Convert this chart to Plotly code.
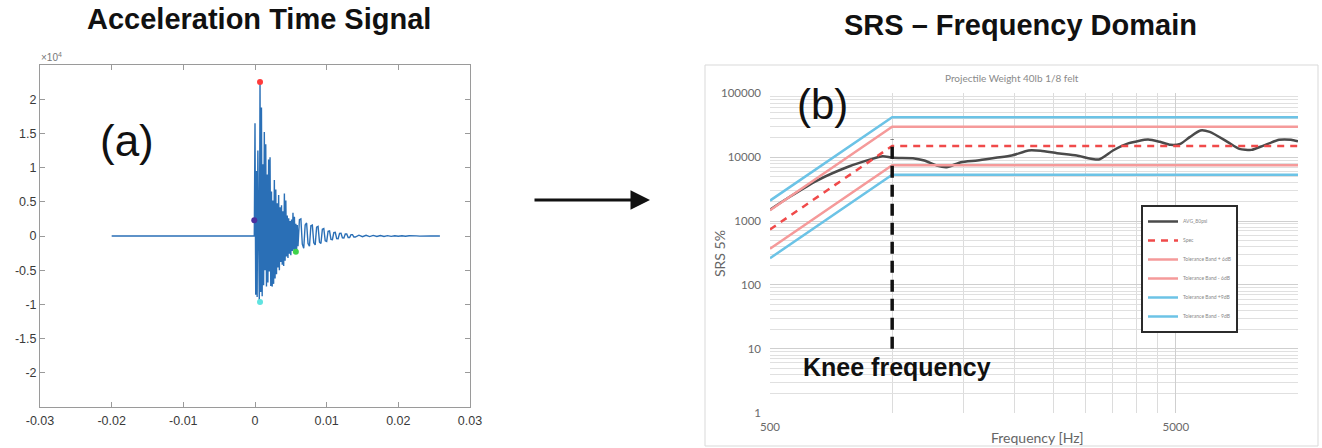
import plotly.graph_objects as go

W, H = 1322, 448

# ---------------- (a) acceleration time signal ----------------
sig_t = [-0.0200, -0.0001,
         0.0000, 0.0001, 0.0002, 0.0003, 0.0004, 0.0005, 0.0006, 0.0007, 0.0008, 0.0009,
         0.0010, 0.0011, 0.0012, 0.0013, 0.0014, 0.0015, 0.0016, 0.0017, 0.0018, 0.0019,
         0.0020, 0.0021, 0.0022, 0.0023, 0.0024, 0.0025, 0.0026, 0.0027, 0.0028, 0.0029,
         0.0030, 0.0031, 0.0032, 0.0033, 0.0034, 0.0035, 0.0036, 0.0037, 0.0038, 0.0039,
         0.0040, 0.0041, 0.0042, 0.0043, 0.0044, 0.0045, 0.0046, 0.0047, 0.0048, 0.0049,
         0.0050, 0.0051, 0.0052, 0.0053, 0.0054, 0.0055, 0.0056, 0.0057, 0.0058, 0.0059,
         0.0060,
         0.0062, 0.0064, 0.0066, 0.0068, 0.0070, 0.0072, 0.0074, 0.0076, 0.0078, 0.0080,
         0.0082, 0.0084, 0.0086, 0.0088, 0.0090, 0.0092, 0.0094, 0.0096, 0.0098, 0.0100,
         0.0102, 0.0104, 0.0106, 0.0108, 0.0110, 0.0112, 0.0114, 0.0116, 0.0118, 0.0120,
         0.0122, 0.0124, 0.0126, 0.0128, 0.0130, 0.0132, 0.0134, 0.0136, 0.0138, 0.0140,
         0.0145, 0.0150, 0.0155, 0.0160, 0.0165, 0.0170, 0.0175, 0.0180, 0.0185, 0.0190,
         0.0195, 0.0200, 0.0205, 0.0210, 0.0215, 0.0220, 0.0225, 0.0230, 0.0235, 0.0240,
         0.0245, 0.0250, 0.0258]
sig_v = [0, 0,
         16500, -8600, 9500, -8900, 12500, -7800, -9700, 22500, -8200, 18800,
         -8800, 10500, -7200, 15200, -5000, 13400, -7400, 9000, -6800, 11200,
         -5200, 11500, -7300, 6500, -7400, 5200, -7000, 8200, -6200, 6800,
         -5600, 4800, -4600, 6000, -5000, 4200, -3800, 4500, -4200, 3600,
         -4400, 6200, -3600, 5200, -3000, 3000, -3200, 2600, -2600, 2200,
         -2800, 2400, -2200, 3400, -2000, 2800, -2400, 1800, -2300, 1600,
         -1500,
         2400, 2500, -1200, -1800, 1600, 1900, -1100, -1500, 1500, 1600,
         -1000, -1300, 1300, 1400, -900, -1100, 1000, 1100, -700, -800,
         700, 750, -500, -550, 500, 550, -380, -400, 380, 400,
         -280, -300, 300, 300, -220, -220, 200, 200, -150, -150,
         120, -110, 100, -90, 80, -70, 60, -60, 50, -50,
         40, -40, 30, -30, 30, -25, 20, -20, 15, -15,
         10, -10, 0]

mark_t = [-0.0001, 0.0007, 0.0007, 0.0057]
mark_v = [2300, 22500, -9650, -2300]
mark_c = ["#4b2f9e", "#ff3b3b", "#5fe3e0", "#3fd34a"]

a_xticks = [-0.03, -0.02, -0.01, 0, 0.01, 0.02, 0.03]
a_xlabels = ["-0.03", "-0.02", "-0.01", "0", "0.01", "0.02", "0.03"]
a_yticks = [-20000, -15000, -10000, -5000, 0, 5000, 10000, 15000, 20000]
a_ylabels = ["-2", "-1.5", "-1", "-0.5", "0", "0.5", "1", "1.5", "2"]

# ---------------- (b) SRS frequency domain ----------------
band_f = [500, 1000, 10000]
spec = [740, 15000, 15000]
tol_p6 = [1480, 30000, 30000]
tol_m6 = [370, 7500, 7500]
tol_p9 = [2090, 42300, 42300]
tol_m9 = [262, 5320, 5320]

avg_f = [500, 557, 653, 782, 876, 948, 1002, 1125, 1200, 1287, 1363, 1477, 1622,
         1800, 1970, 2170, 2323, 2550, 2850, 3230, 3500, 3830, 4270, 4570, 4850,
         5130, 5410, 5750, 6060, 6700, 7170, 7680, 8220, 8990, 9610, 10000]
avg_v = [1510, 2360, 4310, 7140, 9080, 10370, 9760, 9640, 8870, 7400, 6970, 8350, 8870,
         9760, 10600, 12720, 12560, 11550, 10600, 9190, 12720, 16570, 18900, 17400, 15600,
         16170, 20600, 26200, 24900, 17400, 13500, 13010, 15200, 18700, 18700, 17700]

knee_f = [1000, 1000]
knee_v = [10, 19000]

b_xticks = [500, 5000]
b_xlabels = ["500", "5000"]
b_yticks = [1, 10, 100, 1000, 10000, 100000]
b_ylabels = ["1", "10", "100", "1000", "10000", "100000"]
b_xminor = [1000, 1500, 2000, 2500, 3000, 3500, 4000, 4500]
b_yminor = [m * d for d in [1, 10, 100, 1000, 10000] for m in range(2, 10)]

fig = go.Figure()

# (a) traces
fig.add_trace(go.Scatter(x=sig_t, y=sig_v, mode="lines",
                         line=dict(color="#2a6fb6", width=1.4),
                         showlegend=False, xaxis="x", yaxis="y"))
fig.add_trace(go.Scatter(x=mark_t, y=mark_v, mode="markers",
                         marker=dict(color=mark_c, size=6),
                         showlegend=False, xaxis="x", yaxis="y"))

# (b) traces
grey_line = "#4a4a4a"
fig.add_trace(go.Scatter(x=avg_f, y=avg_v, mode="lines", name="AVG_80psi",
                         line=dict(color=grey_line, width=2.5, shape="spline", smoothing=0.6),
                         xaxis="x2", yaxis="y2"))
fig.add_trace(go.Scatter(x=band_f, y=spec, mode="lines", name="Spec",
                         line=dict(color="#f04a4a", width=2.5, dash="7px,6px"),
                         xaxis="x2", yaxis="y2"))
fig.add_trace(go.Scatter(x=band_f, y=tol_p6, mode="lines", name="Tolerance Band + 6dB",
                         line=dict(color="#f59a9a", width=2.5),
                         xaxis="x2", yaxis="y2"))
fig.add_trace(go.Scatter(x=band_f, y=tol_m6, mode="lines", name="Tolerance Band - 6dB",
                         line=dict(color="#f59a9a", width=2.5),
                         xaxis="x2", yaxis="y2"))
fig.add_trace(go.Scatter(x=band_f, y=tol_p9, mode="lines", name="Tolerance Band +9dB",
                         line=dict(color="#6cc3e6", width=2.5),
                         xaxis="x2", yaxis="y2"))
fig.add_trace(go.Scatter(x=band_f, y=tol_m9, mode="lines", name="Tolerance Band - 9dB",
                         line=dict(color="#6cc3e6", width=2.5),
                         xaxis="x2", yaxis="y2"))
fig.add_trace(go.Scatter(x=knee_f, y=knee_v, mode="lines",
                         line=dict(color="#111111", width=3.5, dash="12px,7px"),
                         showlegend=False, xaxis="x2", yaxis="y2"))


def px(x):
    return x / W


def py(y):
    return 1 - y / H


axis_a_common = dict(showline=True, linecolor="#9a9a9a", linewidth=1, mirror="ticks",
                     ticks="inside", ticklen=5, tickcolor="#9a9a9a",
                     showgrid=False, zeroline=False,
                     tickfont=dict(family="Liberation Sans", size=12.5, color="#3a3a3a"))

fig.update_layout(
    width=W, height=H,
    margin=dict(l=0, r=0, t=0, b=0, pad=0, autoexpand=False),
    paper_bgcolor="white", plot_bgcolor="white",
    xaxis=dict(domain=[px(40), px(470)], anchor="y", range=[-0.03, 0.03],
               tickvals=a_xticks, ticktext=a_xlabels, automargin=False,
               ticklabelstandoff=2, **axis_a_common),
    yaxis=dict(domain=[py(407), py(65)], anchor="x", range=[-25000, 25000],
               tickvals=a_yticks, ticktext=a_ylabels, automargin=False, **axis_a_common),
    xaxis2=dict(domain=[px(770), px(1298)], anchor="y2", type="log", automargin=False,
                range=[2.69897, 4.0], tickvals=b_xticks, ticktext=b_xlabels,
                showgrid=True, gridcolor="#cfcfcf", gridwidth=1, zeroline=False,
                showline=False, ticks="", ticklabelstandoff=6,
                tickfont=dict(family="Lato", size=11.5, color="#6a6a6a"),
                minor=dict(tickmode="array", tickvals=b_xminor, showgrid=True,
                           gridcolor="#dcdcdc", gridwidth=1, ticks="")),
    yaxis2=dict(domain=[py(412.7), py(93.3)], anchor="x2", type="log", automargin=False,
                range=[0, 5], tickvals=b_yticks, ticktext=b_ylabels,
                showgrid=True, gridcolor="#cfcfcf", gridwidth=1, zeroline=False,
                showline=False, ticks="", ticklabelstandoff=8,
                tickfont=dict(family="Lato", size=11.5, color="#6a6a6a"),
                minor=dict(tickmode="array", tickvals=b_yminor, showgrid=True,
                           gridcolor="#e0e0e0", gridwidth=1, ticks="")),
    legend=dict(x=px(1141), y=py(205), xanchor="left", yanchor="top",
                bgcolor="white", bordercolor="#2b2b2b", borderwidth=2,
                font=dict(family="Lato", size=5, color="#888888"),
                tracegroupgap=0, itemwidth=30, traceorder="normal"),
)


def label(text, x, y, size, family="Liberation Sans", color="#111111", **kw):
    return dict(text=text, x=px(x), y=py(y), xref="paper", yref="paper",
                xanchor=kw.pop("xanchor", "center"), yanchor="middle", showarrow=False,
                font=dict(family=family, size=size, color=color), **kw)


ann = [
    label("<b>Acceleration Time Signal</b>", 259, 19, 29),
    label("<b>SRS – Frequency Domain</b>", 1020, 25, 29),
    label("(a)", 127, 140, 44),
    label("(b)", 822, 104, 42),
    label("×10<sup>4</sup>", 39, 57, 10, color="#777777", xanchor="left"),
    label("Projectile Weight 40lb 1/8 felt", 1012, 78, 10, family="Lato", color="#8a8a8a"),
    label("Frequency [Hz]", 1037, 437, 14, family="Lato", color="#666666"),
    label("SRS 5%", 719, 254, 14, family="Lato", color="#666666", textangle=-90),
    label("<b>Knee frequency</b>", 897, 367, 25),
    dict(text="", x=px(650), y=py(200), xref="paper", yref="paper",
         ax=-117, ay=0, axref="pixel", ayref="pixel", showarrow=True,
         arrowhead=2, arrowsize=1.3, arrowwidth=3, arrowcolor="#111111"),
]
fig.update_layout(annotations=ann)

fig.add_shape(type="rect", xref="paper", yref="paper",
              x0=px(705), x1=px(1318), y0=py(446), y1=py(65),
              line=dict(color="#d9d9d9", width=1), layer="below")

fig.write_html("out.html")
